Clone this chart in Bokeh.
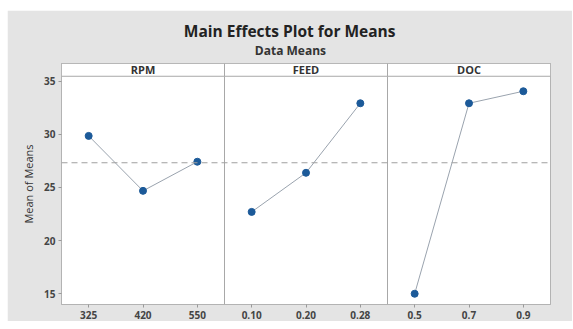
from bokeh.plotting import figure
from bokeh.models import ColumnDataSource, FactorRange, Range1d, FixedTicker, Span, Title
from bokeh.core.properties import value
from bokeh.embed import file_html
from bokeh.resources import INLINE

# ---- data ----
factor_names = ["RPM", "FEED", "DOC"]
rpm_levels = ["325", "420", "550"]
rpm_means = [29.85, 24.68, 27.42]
feed_levels = ["0.10", "0.20", "0.28"]
feed_means = [22.70, 26.38, 32.92]
doc_levels = ["0.5", "0.7", "0.9"]
doc_means = [15.00, 32.92, 34.05]
y_ticks = [15, 20, 25, 30, 35]

groups = [rpm_levels, feed_levels, doc_levels]
means = [rpm_means, feed_means, doc_means]
all_levels = rpm_levels + feed_levels + doc_levels
all_means = rpm_means + feed_means + doc_means
grand_mean = sum(all_means) / len(all_means)

FONT = "Open Sans"
y_lo, data_hi, y_hi = 13.99, 35.46, 36.66
EDGE = "#a8a8a8"

p = figure(width=565, height=311,
           x_range=FactorRange(*all_levels, factor_padding=0, range_padding=0),
           y_range=Range1d(y_lo, y_hi),
           output_backend="svg", toolbar_location=None,
           min_border_left=54, min_border_right=22, min_border_top=53, min_border_bottom=17,
           background_fill_color="white", border_fill_color="#e4e4e4",
           outline_line_color=EDGE)
p.margin = (10, 0, 0, 7)
p.grid.visible = False

# panels + strips
panel_src = ColumnDataSource(dict(
    left=[(g[0], -0.5) for g in groups],
    right=[(g[-1], 0.5) for g in groups],
))
p.quad(left="left", right="right", bottom=y_lo, top=y_hi, source=panel_src,
       fill_color="white", line_color=EDGE, line_width=1)
p.quad(left="left", right="right", bottom=data_hi, top=y_hi, source=panel_src,
       fill_color="white", line_color=EDGE, line_width=1)
p.text(x=[g[1] for g in groups], y=[(data_hi + y_hi) / 2] * 3, text=factor_names,
       text_align="center", text_baseline="middle", text_font=value(FONT),
       text_font_size="11px", text_font_style="bold", text_color="#333333")

# grand mean
p.add_layout(Span(location=grand_mean, dimension="width", line_color="#a0a0a0",
                  line_dash="6 4", line_width=1.2))

for g, m in zip(groups, means):
    p.line(x=g, y=m, line_color="#9aa3ae", line_width=1)
p.scatter(x=all_levels, y=all_means, size=7, fill_color="#1c5a99", line_color="#1c5a99")

# axes
p.yaxis.ticker = FixedTicker(ticks=y_ticks)
p.yaxis.axis_label = "Mean of Means"
p.yaxis.axis_label_text_font = FONT
p.yaxis.axis_label_text_font_size = "11px"
p.yaxis.axis_label_text_font_style = "normal"
p.yaxis.axis_label_text_color = "#333333"
p.yaxis.axis_label_standoff = 5
p.axis.axis_line_color = None
p.axis.major_tick_line_color = "#999999"
p.axis.major_tick_in = 0
p.axis.major_tick_out = 3
p.axis.minor_tick_line_color = None
p.axis.major_label_text_font = FONT
p.axis.major_label_text_font_size = "10px"
p.axis.major_label_text_font_style = "bold"
p.axis.major_label_text_color = "#444444"
p.xaxis.major_label_standoff = 3
p.yaxis.major_label_standoff = 3

# titles (first added is nearest the plot)
p.add_layout(Title(text="Data Means", align="left", offset=193.3, standoff=9,
                   text_font=FONT, text_font_size="12px", text_font_style="bold",
                   text_color="#333333"), "above")
p.add_layout(Title(text="Main Effects Plot for Means", align="left", offset=122.3, standoff=-12,
                   text_font=FONT, text_font_size="15.5px", text_font_style="bold",
                   text_color="#222222"), "above")

open("out.html", "w").write(file_html(p, INLINE))
